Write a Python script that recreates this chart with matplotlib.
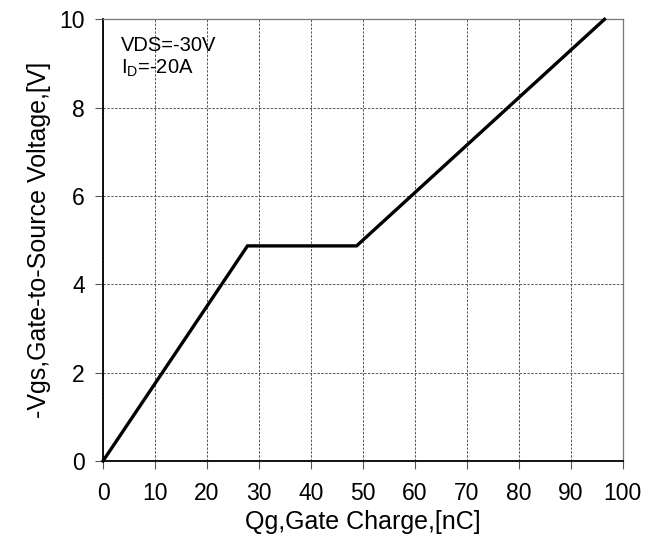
import matplotlib
matplotlib.use("Agg")
import matplotlib.pyplot as plt

plt.rcParams['font.family'] = ['Liberation Sans', 'DejaVu Sans']

# gate charge curve (nC, V)
qg = [0, 27.8, 48.8, 96.5]
vgs = [0, 4.87, 4.87, 10]

x_ticks = [0, 10, 20, 30, 40, 50, 60, 70, 80, 90, 100]
y_ticks = [0, 2, 4, 6, 8, 10]

fig = plt.figure(figsize=(6.62, 5.52), dpi=100)
ax = fig.add_axes([0.1556, 0.1649, 0.7850, 0.8001])

ax.plot(qg, vgs, color='black', lw=2.4, solid_joinstyle='miter', clip_on=False, zorder=3)

ax.set_xlim(0, 100)
ax.set_ylim(0, 10)
ax.set_xticks(x_ticks)
ax.set_yticks(y_ticks)
ax.tick_params(direction='out', length=6, width=0.8, color='#555555',
               labelsize=16.5)
ax.tick_params(axis='x', pad=9)
ax.tick_params(axis='y', pad=7)
ax.grid(True, color='#555555', ls=(0, (2.5, 1.5)), lw=0.7)

for side in ['left', 'bottom']:
    ax.spines[side].set_color('black')
    ax.spines[side].set_linewidth(1.3)
for side in ['top', 'right']:
    ax.spines[side].set_color('#777777')
    ax.spines[side].set_linewidth(0.9)

ax.set_xlabel('Qg,Gate Charge,[nC]', fontsize=18, labelpad=4)
ax.set_ylabel('-Vgs,Gate-to-Source Voltage,[V]', fontsize=18, labelpad=6)

ax.text(3.4, 9.62, 'VDS=-30V\nI$_\\mathregular{D}$=-20A', fontsize=14.5,
        va='top', ha='left', linespacing=1.15)

fig.savefig('out.png', dpi=100)
